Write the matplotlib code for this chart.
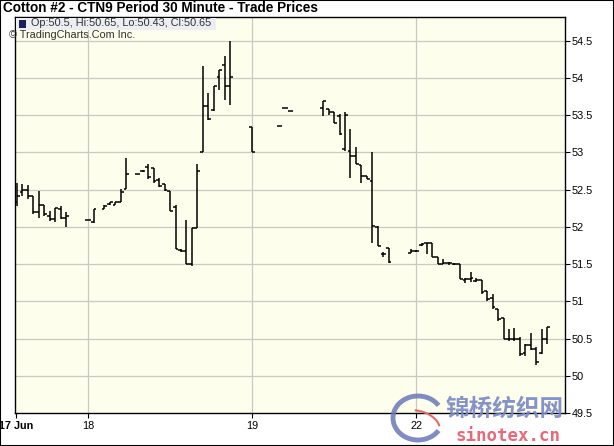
import matplotlib
matplotlib.use('Agg')
import matplotlib.pyplot as plt
from matplotlib.patches import Rectangle, Arc

plt.rcParams['font.family'] = ['Liberation Sans', 'DejaVu Sans']

# chart text
title = 'Cotton #2 - CTN9 Period 30 Minute - Trade Prices'
legend_text = 'Op:50.5, Hi:50.65, Lo:50.43, Cl:50.65'
credit = '\u00a9 TradingCharts.Com Inc.'

# 30-minute slot number of each bar (slots with no trade are skipped)
slots = [0, 1, 2, 3, 4, 5, 6, 7, 8, 9,
         13, 14, 16, 17, 18, 19, 20,
         22, 23, 24, 25, 26, 27, 28, 29, 30, 31, 32, 33, 34, 35, 36, 37, 38, 39,
         43, 48, 49, 50,
         56, 57, 58, 59, 60, 61, 62, 63, 64, 65, 66, 67, 68,
         72, 73, 74, 75, 76, 77, 78, 79, 80, 81, 82, 83, 84, 85, 86, 87, 88,
         89, 90, 91, 92, 93, 94, 95, 96, 97]

opens = [52.33, 52.47, 52.50, 52.42, 52.20, 52.30, 52.15, 52.10, 52.24, 52.12,
         52.09, 52.07, 52.24, 52.31, 52.30, 52.33, 52.51,
         52.71, 52.75, 52.80, 52.79, 52.63, 52.57, 52.48, 52.27, 51.69, 51.68,
         51.50, 51.99, 53.00, 53.62, 53.57, 54.02, 54.17, 53.89,
         53.34, 53.36, 53.60, 53.56,
         53.60, 53.58, 53.54, 53.49, 53.04, 53.02, 52.95, 52.83, 52.69, 52.62,
         52.00, 51.63, 51.71,
         51.65, 51.67, 51.76, 51.79, 51.78, 51.59, 51.50, 51.51, 51.50, 51.50,
         51.29, 51.30, 51.28, 51.29, 51.14, 51.05, 50.90,
         50.78, 50.50, 50.50, 50.50, 50.30, 50.42, 50.36, 50.30, 50.50]

highs = [52.59, 52.57, 52.56, 52.42, 52.48, 52.30, 52.21, 52.25, 52.28, 52.20,
         52.09, 52.24, 52.30, 52.33, 52.34, 52.51, 52.93,
         52.71, 52.76, 52.85, 52.79, 52.66, 52.57, 52.48, 52.29, 51.70, 52.09,
         51.99, 52.85, 54.16, 53.80, 53.89, 54.11, 54.30, 54.50,
         53.34, 53.36, 53.60, 53.56,
         53.69, 53.58, 53.55, 53.52, 53.54, 53.32, 53.08, 52.83, 52.69, 53.00,
         52.01, 51.66, 51.71,
         51.70, 51.69, 51.79, 51.79, 51.78, 51.59, 51.57, 51.53, 51.51, 51.50,
         51.31, 51.39, 51.31, 51.29, 51.14, 51.10, 50.90,
         50.78, 50.63, 50.64, 50.52, 50.43, 50.57, 50.38, 50.63, 50.65]

lows = [52.28, 52.42, 52.37, 52.17, 52.12, 52.15, 52.08, 52.06, 52.10, 52.00,
        52.09, 52.05, 52.24, 52.30, 52.29, 52.33, 52.51,
        52.71, 52.74, 52.65, 52.59, 52.53, 52.48, 52.21, 51.70, 51.66, 51.50,
        51.47, 51.99, 53.00, 53.44, 53.56, 53.84, 53.71, 53.64,
        53.00, 53.36, 53.60, 53.56,
        53.49, 53.51, 53.40, 53.23, 53.02, 52.66, 52.85, 52.59, 52.64, 51.79,
        51.74, 51.60, 51.52,
        51.65, 51.66, 51.74, 51.63, 51.59, 51.50, 51.50, 51.49, 51.49, 51.30,
        51.25, 51.26, 51.26, 51.10, 51.01, 50.90, 50.74,
        50.49, 50.47, 50.47, 50.27, 50.27, 50.34, 50.14, 50.29, 50.43]

closes = [52.42, 52.50, 52.41, 52.20, 52.30, 52.17, 52.10, 52.25, 52.12, 52.14,
          52.09, 52.24, 52.28, 52.33, 52.33, 52.47, 52.71,
          52.71, 52.75, 52.67, 52.62, 52.55, 52.50, 52.22, 51.70, 51.67, 51.50,
          51.98, 52.75, 53.62, 53.45, 53.89, 54.11, 53.89, 54.01,
          53.00, 53.36, 53.60, 53.56,
          53.69, 53.54, 53.40, 53.25, 53.50, 52.95, 52.85, 52.69, 52.64, 52.01,
          51.74, 51.63, 51.53,
          51.67, 51.68, 51.77, 51.78, 51.59, 51.50, 51.51, 51.51, 51.50, 51.30,
          51.30, 51.31, 51.29, 51.12, 51.03, 50.92, 50.76,
          50.50, 50.50, 50.50, 50.29, 50.42, 50.36, 50.18, 50.50, 50.65]

# day boundaries on the time axis
day_slots = [-0.18, 13, 43, 73]
day_labels = ['17 Jun', '18', '19', '22']

price_ticks = [49.5, 50, 50.5, 51, 51.5, 52, 52.5, 53, 53.5, 54, 54.5]
price_labels = ['49.5', '50', '50.5', '51', '51.5', '52', '52.5', '53', '53.5', '54', '54.5']

W, H = 614, 446


def fx(px):
    return px / W


def fy(py):
    return 1 - py / H


fig = plt.figure(figsize=(W / 100, H / 100), dpi=100)
fig.patch.set_facecolor('white')
ax = fig.add_axes([fx(15), fy(413), fx(550), 396 / H])
ax.set_facecolor('#fefeec')

# grid
for p in price_ticks[1:]:
    ax.axhline(p, color='#c8c8c4', lw=0.9, zorder=1)
for d in day_slots[1:]:
    ax.axvline(d, color='#c8c8c4', lw=0.9, zorder=1)

# OHLC bars
tick_w = 0.5
ax.vlines(slots, lows, highs, color='black', lw=1.1, zorder=3)
ax.hlines(opens, [s - tick_w for s in slots], slots, color='black', lw=1.1, zorder=3)
ax.hlines(closes, slots, [s + tick_w for s in slots], color='black', lw=1.1, zorder=3)

ax.set_xlim(-0.37, 100.24)
ax.set_ylim(49.5, 54.82)

ax.yaxis.tick_right()
ax.set_yticks(price_ticks)
ax.set_yticklabels(price_labels)
ax.set_xticks(day_slots)
ax.set_xticklabels(day_labels)
ax.get_xticklabels()[0].set_fontweight('bold')
ax.tick_params(axis='y', direction='out', length=3.5, width=0.8, pad=1.5,
               labelsize=7.8, colors='black')
ax.tick_params(axis='x', direction='out', length=3.5, width=0.8, pad=2,
               labelsize=7.8, colors='black')
for sp in ax.spines.values():
    sp.set_color('black')
    sp.set_linewidth(1.0)

# header texts
fig.text(fx(3), fy(8), title, ha='left', va='center', fontsize=9.8,
         fontweight='bold')
fig.add_artist(Rectangle((fx(16), fy(29.5)), fx(200), 12 / H,
                         transform=fig.transFigure, fc='#eceef2', ec='none',
                         zorder=5))
fig.add_artist(Rectangle((fx(19), fy(27.5)), fx(7), 7 / H,
                         transform=fig.transFigure, fc='#1c2058', ec='none',
                         zorder=6))
fig.text(fx(31), fy(23.5), legend_text, ha='left', va='center', fontsize=7.8,
         color='#303030', zorder=6)
fig.text(fx(9), fy(35.5), credit, ha='left', va='center', fontsize=7.8,
         color='#303030', zorder=6)

# sinotex watermark
fig.add_artist(Arc((fx(418), fy(418)), fx(50), 44 / H, theta1=40, theta2=320,
                   transform=fig.transFigure, color='#6a78b8', lw=3.5,
                   alpha=0.85, zorder=6))
fig.add_artist(Arc((fx(410), fy(430)), fx(60), 40 / H, theta1=10, theta2=80,
                   transform=fig.transFigure, color='#e06a6a', lw=1.5,
                   zorder=6))
fig.text(fx(446), fy(409), '锦桥纺织网', ha='left', va='center', fontsize=17,
         fontweight='bold', color='#7888c4', alpha=0.9,
         family=['Noto Sans CJK SC', 'DejaVu Sans'], zorder=6)
fig.text(fx(508), fy(436), 'sinotex.cn', ha='center', va='center',
         fontsize=12.5, fontweight='bold', color='#e86a78',
         family=['DejaVu Sans Mono', 'DejaVu Sans'], zorder=6)

# outer frame
fig.add_artist(Rectangle((0, 0), 1, 1, transform=fig.transFigure, fill=False,
                         ec='black', lw=1.5, zorder=10))

fig.savefig('out.png', dpi=100)
